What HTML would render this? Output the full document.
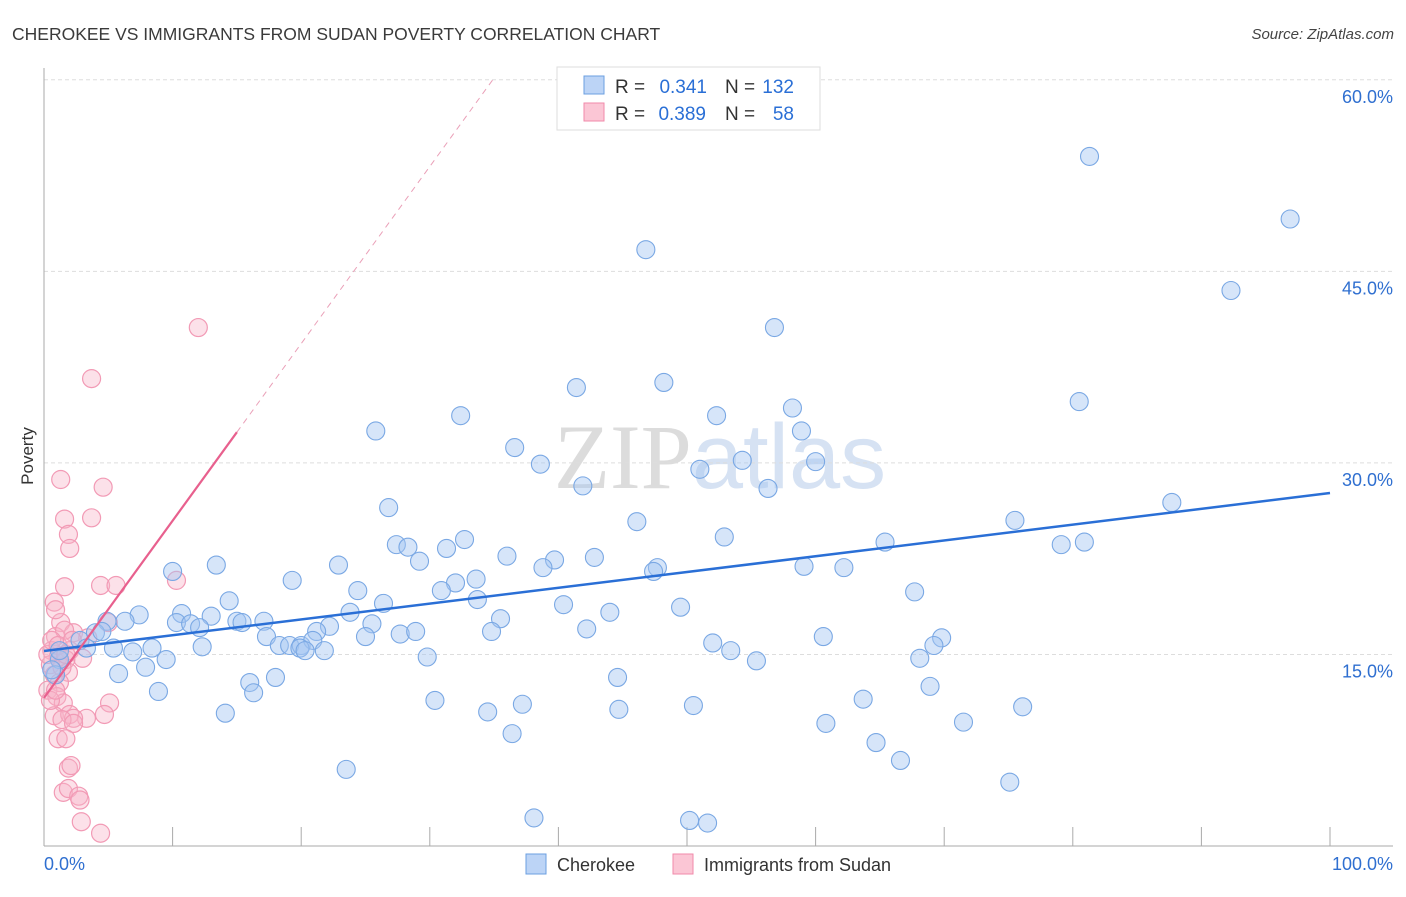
<!DOCTYPE html>
<html><head><meta charset="utf-8">
<style>
body{margin:0;background:#fff;font-family:"Liberation Sans",sans-serif;}
svg text{font-family:"Liberation Sans",sans-serif;}
</style></head>
<body>
<svg id="chart" width="1406" height="892" xmlns="http://www.w3.org/2000/svg">
<text x="12" y="40" font-size="17.5" fill="#3a3a3a">CHEROKEE VS IMMIGRANTS FROM SUDAN POVERTY CORRELATION CHART</text>
<text x="1394" y="39" font-size="15" fill="#444" text-anchor="end" font-style="italic">Source: ZipAtlas.com</text>
<text x="720" y="488" font-size="92" text-anchor="middle" fill="#e4e4e4"><tspan font-family="Liberation Serif" fill="#dcdcdc">ZIP</tspan><tspan fill="#d6e2f3">atlas</tspan></text>
<g id="grid"></g>
<g id="axes"></g>
<g id="points"></g>
<g id="lines"></g>
<text transform="translate(33,456) rotate(-90)" font-size="17" fill="#333" text-anchor="middle">Poverty</text>
<g>
<rect x="557" y="67" width="263" height="63" fill="#fff" stroke="#ddd"/>
<rect x="584" y="76" width="20" height="18" fill="#bcd4f6" stroke="#6b9fe0"/>
<rect x="584" y="103" width="20" height="18" fill="#fbc6d5" stroke="#f08aaa"/>
<text x="615" y="93" font-size="19" fill="#333">R =</text>
<text x="707" y="93" font-size="19" fill="#2a6fd6" text-anchor="end">0.341</text>
<text x="725" y="93" font-size="19" fill="#333">N =</text>
<text x="794" y="93" font-size="19" fill="#2a6fd6" text-anchor="end">132</text>
<text x="615" y="120" font-size="19" fill="#333">R =</text>
<text x="706" y="120" font-size="19" fill="#2a6fd6" text-anchor="end">0.389</text>
<text x="725" y="120" font-size="19" fill="#333">N =</text>
<text x="794" y="120" font-size="19" fill="#2a6fd6" text-anchor="end">58</text>
</g>
<g>
<rect x="526" y="854" width="20" height="20" fill="#bcd4f6" stroke="#6b9fe0"/>
<text x="557" y="871" font-size="18" fill="#333">Cherokee</text>
<rect x="673" y="854" width="20" height="20" fill="#fbc6d5" stroke="#f08aaa"/>
<text x="704" y="871" font-size="18" fill="#333">Immigrants from Sudan</text>
</g>
</svg>
<script>
const yTicks=[15,30,45,60];
const yTickLabels=["15.0%","30.0%","45.0%","60.0%"];
const xTickVals=[0,10,20,30,40,50,60,70,80,90,100];
const blueX=[81.3,96.9,46.8,92.3,56.8,48.2,41.4,80.5,32.4,58.2,52.3,25.8,36.6,58.9,38.6,54.3,60.0,51.0,41.9,56.3,87.7,26.8,75.5,46.1,52.9,65.4,32.7,27.4,28.3,31.3,79.1,80.9,36.0,29.2,39.7,42.8,13.4,22.9,10.0,47.7,47.4,38.8,59.1,62.2,33.6,32.0,19.3,24.4,30.9,67.7,14.4,33.7,26.4,40.4,44.0,7.4,10.7,13.0,23.8,49.5,4.9,6.3,10.3,11.4,12.1,15.0,15.4,17.1,22.2,25.5,35.5,21.2,27.7,28.9,34.8,42.2,2.8,4.0,4.5,17.3,25.0,60.6,69.8,69.2,52.0,18.3,19.1,20.0,20.9,21.8,19.9,20.3,5.4,8.4,6.9,12.3,53.4,3.3,9.5,7.9,29.8,55.4,68.1,5.8,16.0,18.0,44.6,8.9,16.3,68.9,30.4,63.7,44.7,50.5,37.2,14.1,34.5,76.1,71.5,60.8,36.4,64.7,66.6,23.5,75.1,38.1,50.2,51.6,1.2,0.9,1.2,0.6];
const blueY=[54.0,49.1,46.7,43.5,40.6,36.3,35.9,34.8,33.7,34.3,33.7,32.5,31.2,32.5,29.9,30.2,30.1,29.5,28.2,28.0,26.9,26.5,25.5,25.4,24.2,23.8,24.0,23.6,23.4,23.3,23.6,23.8,22.7,22.3,22.4,22.6,22.0,22.0,21.5,21.8,21.5,21.8,21.9,21.8,20.9,20.6,20.8,20.0,20.0,19.9,19.2,19.3,19.0,18.9,18.3,18.1,18.2,18.0,18.3,18.7,17.6,17.6,17.5,17.4,17.1,17.6,17.5,17.6,17.2,17.4,17.8,16.8,16.6,16.8,16.8,17.0,16.1,16.7,16.8,16.4,16.4,16.4,16.3,15.7,15.9,15.7,15.7,15.7,16.1,15.3,15.5,15.3,15.5,15.5,15.2,15.6,15.3,15.5,14.6,14.0,14.8,14.5,14.7,13.5,12.8,13.2,13.2,12.1,12.0,12.5,11.4,11.5,10.7,11.0,11.1,10.4,10.5,10.9,9.7,9.6,8.8,8.1,6.7,6.0,5.0,2.2,2.0,1.8,14.6,13.4,15.3,13.8];
const pinkX=[12.0,3.7,1.3,4.6,1.6,3.7,1.9,2.0,10.3,1.6,4.4,5.6,0.8,1.3,5.0,2.3,0.9,1.6,3.4,2.0,0.6,1.1,3.0,1.7,0.5,1.9,0.8,1.2,0.3,1.0,1.5,5.1,0.8,2.0,3.3,2.3,4.7,1.4,2.3,1.1,1.7,1.9,2.1,1.5,1.9,2.7,2.8,2.9,4.4,0.5,0.9,1.4,0.3,0.6,1.1,1.7,2.2,0.9];
const pinkY=[40.6,36.6,28.7,28.1,25.6,25.7,24.4,23.3,20.8,20.3,20.4,20.4,19.1,17.5,17.5,16.7,16.4,16.9,16.3,15.3,15.3,14.8,14.7,14.6,14.2,13.6,13.4,12.8,12.2,11.7,11.2,11.2,10.2,10.3,10.0,10.0,10.3,9.9,9.6,8.4,8.4,6.1,6.3,4.2,4.5,3.9,3.6,1.9,1.0,11.4,12.2,14.0,15.0,16.1,15.7,15.0,16.1,18.5];
const blueTrend=[15.27,27.64];
const pinkTrend=[11.6,1.387];

const NS="http://www.w3.org/2000/svg";
const X=v=>44+v*12.86, Y=v=>846-v*12.77;
function mk(tag,attrs,parent){const e=document.createElementNS(NS,tag);for(const k in attrs)e.setAttribute(k,attrs[k]);document.getElementById(parent).appendChild(e);return e;}
yTicks.forEach((t,i)=>{
 const l=mk('line',{x1:44,x2:1393,y1:Y(t),y2:Y(t),stroke:'#ddd','stroke-dasharray':'4,3'},'grid');
 
 
 const tx=mk('text',{x:1393,y:Y(t)+23,'font-size':18,fill:'#2f6fd0','text-anchor':'end'},'grid');
 tx.textContent=yTickLabels[i];
 
 
});
const ax=mk('line',{x1:44,x2:44,y1:68,y2:846,stroke:'#aaa'},'axes');


const bx=mk('line',{x1:44,x2:1393,y1:846,y2:846,stroke:'#aaa'},'axes');


xTickVals.forEach(v=>{if(v===0)return;const t=mk('line',{x1:X(v),x2:X(v),y1:827,y2:846,stroke:'#aaa'},'axes');
 
 });
const xl0=mk('text',{x:44,y:870,'font-size':18,fill:'#2f6fd0'},'axes');xl0.textContent='0.0%';


const xl1=mk('text',{x:1393,y:870,'font-size':18,fill:'#2f6fd0','text-anchor':'end'},'axes');xl1.textContent='100.0%';


pinkX.forEach((x,i)=>{const c=mk('circle',{cx:X(x),cy:Y(pinkY[i]),r:9,fill:'rgba(248,180,200,0.4)',stroke:'#f29ab5','stroke-width':1.2},'points');
 
 });
blueX.forEach((x,i)=>{const c=mk('circle',{cx:X(x),cy:Y(blueY[i]),r:9,fill:'rgba(165,198,242,0.45)',stroke:'#7aa8e4','stroke-width':1.1},'points');
 
 });
const bl=mk('line',{x1:X(0),y1:Y(blueTrend[0]),x2:X(100),y2:Y(blueTrend[1]),stroke:'#2a6fd6','stroke-width':2.5},'lines');


const pl=mk('line',{x1:X(0),y1:Y(pinkTrend[0]),x2:X(15),y2:Y(pinkTrend[0]+15*pinkTrend[1]),stroke:'#e8608e','stroke-width':2.2},'lines');


const xe=(60-pinkTrend[0])/pinkTrend[1];
const pd=mk('line',{x1:X(15),y1:Y(pinkTrend[0]+15*pinkTrend[1]),x2:X(xe),y2:Y(60),stroke:'#eaa0b8','stroke-width':1,'stroke-dasharray':'6,5'},'lines');


</script>
</body></html>
